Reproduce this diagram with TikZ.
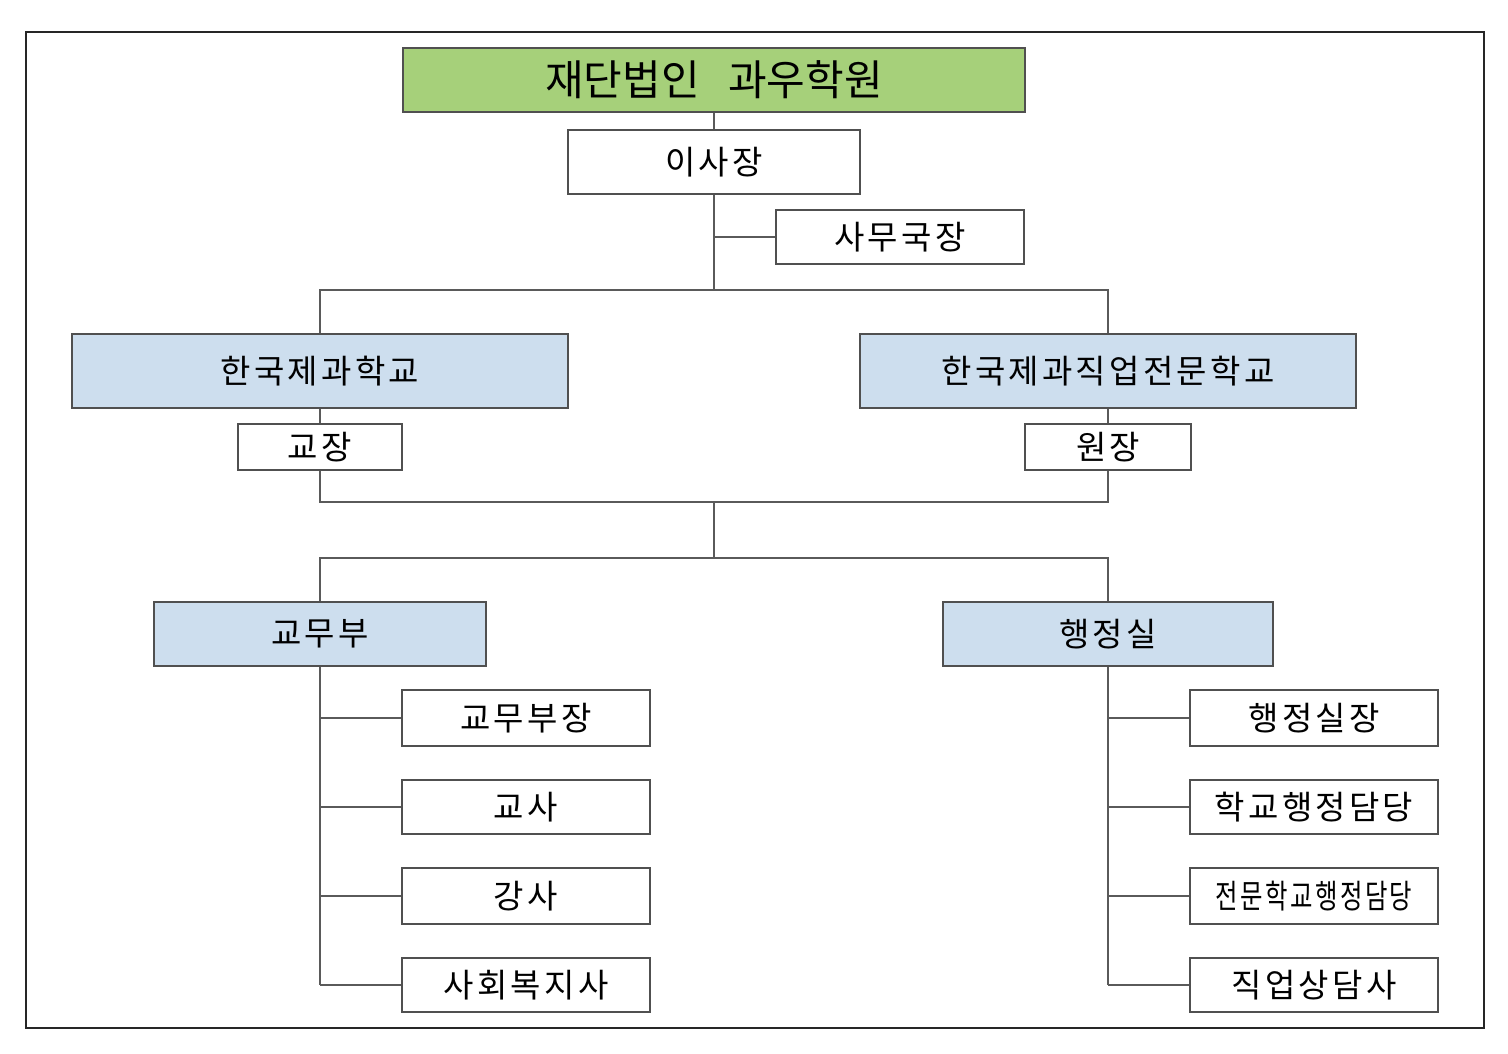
\documentclass[tikz,border=0pt]{standalone}
\usepackage{fontspec}
\setmainfont{Noto Sans CJK KR}
\newfontfamily\spacedfont[LetterSpace=10]{Noto Sans CJK KR}
\definecolor{topgreen}{RGB}{166,208,122}
\definecolor{unitblue}{RGB}{205,222,238}
\definecolor{boxline}{RGB}{80,80,80}
\definecolor{conn}{RGB}{90,90,90}
\begin{document}
\begin{tikzpicture}[x=1pt,y=-1pt,
  box/.style={draw=boxline, line width=1.2pt, inner sep=0pt, font=\spacedfont\fontsize{33}{36}\selectfont, anchor=center},
  wbox/.style={box, fill=white},
  bbox/.style={box, fill=unitblue},
  cline/.style={draw=conn, line width=1.1pt}]
\useasboundingbox (0,0) rectangle (1508,1054);
\draw[line width=2pt, draw=black!85] (26,32) rectangle (1484,1028);
% top
\node[box, fill=topgreen, minimum width=622pt, minimum height=64pt, font=\rmfamily\fontsize{42}{46}\selectfont] (top) at (714,80) {재단법인\hspace{0.45em} 과우학원};
\node[wbox, minimum width=292pt, minimum height=64pt] (isa) at (714,162) {이사장};
\node[wbox, minimum width=248pt, minimum height=54pt] (samu) at (900,237) {사무국장};
\coordinate (j1) at (714,290);
\coordinate (jsamu) at (714,237);
\coordinate (jl1) at (320,290);
\coordinate (jr1) at (1108,290);
% schools
\node[bbox, minimum width=496pt, minimum height=74pt] (school) at (320,371) {한국제과학교};
\node[bbox, minimum width=496pt, minimum height=74pt] (voc) at (1108,371) {한국제과직업전문학교};
\node[wbox, minimum width=164pt, minimum height=46pt] (prin) at (320,447) {교장};
\node[wbox, minimum width=166pt, minimum height=46pt] (dir) at (1108,447) {원장};
\coordinate (jl2) at (320,502);
\coordinate (jr2) at (1108,502);
\coordinate (jm2) at (714,502);
\coordinate (jm3) at (714,558);
\coordinate (jl3) at (320,558);
\coordinate (jr3) at (1108,558);
% departments
\node[bbox, minimum width=332pt, minimum height=64pt] (gyomu) at (320,634) {교무부};
\node[bbox, minimum width=330pt, minimum height=64pt] (haeng) at (1108,634) {행정실};
% left items
\node[wbox, minimum width=248pt, minimum height=56pt] (l1) at (526,718) {교무부장};
\node[wbox, minimum width=248pt, minimum height=54pt] (l2) at (526,807) {교사};
\node[wbox, minimum width=248pt, minimum height=56pt] (l3) at (526,896) {강사};
\node[wbox, minimum width=248pt, minimum height=54pt] (l4) at (526,985) {사회복지사};
% right items
\node[wbox, minimum width=248pt, minimum height=56pt] (r1) at (1314,718) {행정실장};
\node[wbox, minimum width=248pt, minimum height=54pt] (r2) at (1314,807) {학교행정담당};
\node[wbox, minimum width=248pt, minimum height=56pt] (r3) at (1314,896) {\scalebox{0.74}[1]{전문학교행정담당}};
\node[wbox, minimum width=248pt, minimum height=54pt] (r4) at (1314,985) {직업상담사};
\coordinate (cl1) at (320,718);
\coordinate (cl2) at (320,807);
\coordinate (cl3) at (320,896);
\coordinate (cl4) at (320,985);
\coordinate (cr1) at (1108,718);
\coordinate (cr2) at (1108,807);
\coordinate (cr3) at (1108,896);
\coordinate (cr4) at (1108,985);
% connectors
\draw[cline] (top.south) -- (isa.north);
\draw[cline] (isa.south) -- (j1);
\draw[cline] (jsamu) -- (samu.west);
\draw[cline] (school.north) -- (jl1) -- (jr1) -- (voc.north);
\draw[cline] (school.south) -- (prin.north);
\draw[cline] (voc.south) -- (dir.north);
\draw[cline] (prin.south) -- (jl2) -- (jr2) -- (dir.south);
\draw[cline] (jm2) -- (jm3);
\draw[cline] (gyomu.north) -- (jl3) -- (jr3) -- (haeng.north);
\draw[cline] (gyomu.south) -- (cl4);
\draw[cline] (haeng.south) -- (cr4);
\draw[cline] (cl1) -- (l1.west);
\draw[cline] (cl2) -- (l2.west);
\draw[cline] (cl3) -- (l3.west);
\draw[cline] (cl4) -- (l4.west);
\draw[cline] (cr1) -- (r1.west);
\draw[cline] (cr2) -- (r2.west);
\draw[cline] (cr3) -- (r3.west);
\draw[cline] (cr4) -- (r4.west);
\end{tikzpicture}
\end{document}
